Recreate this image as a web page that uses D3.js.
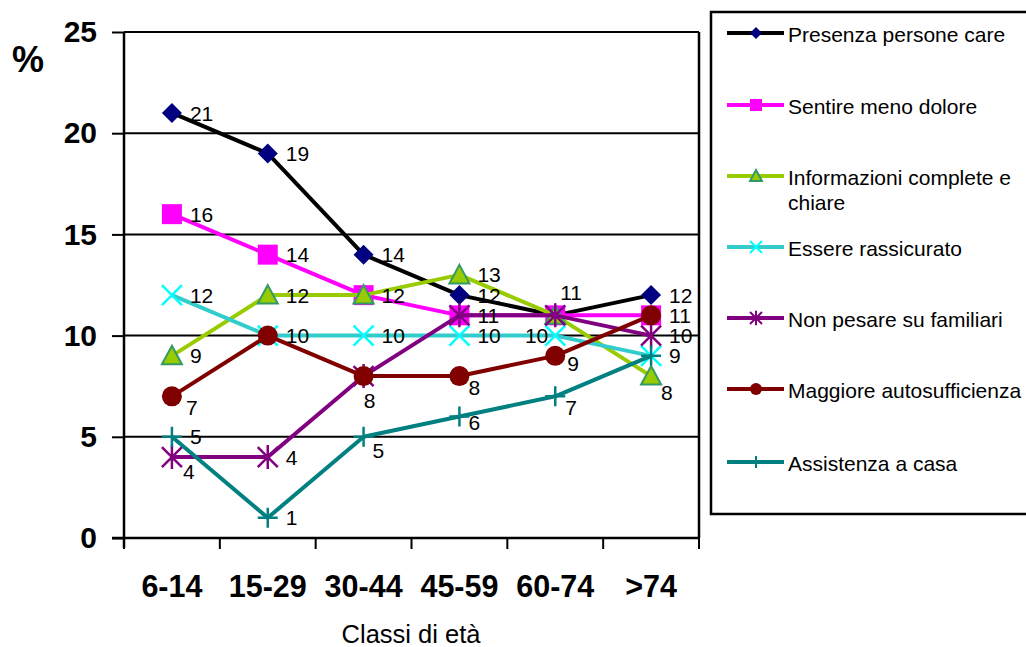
<!DOCTYPE html>
<html>
<head>
<meta charset="utf-8">
<script src="https://cdn.jsdelivr.net/npm/d3@7"></script>
<style>
  html, body { margin: 0; padding: 0; background: #fff; }
  svg { display: block; font-family: "Liberation Sans", Arial, sans-serif; }
</style>
</head>
<body>
<svg id="chart" width="1026" height="647"></svg>
<script>
// ---- Data ----
const categories = ["6-14", "15-29", "30-44", "45-59", "60-74", ">74"];
const seriesNames = [
  "Presenza persone care",
  "Sentire meno dolore",
  "Informazioni complete e chiare",
  "Essere rassicurato",
  "Non pesare su familiari",
  "Maggiore autosufficienza",
  "Assistenza a casa"
];
const presenza      = [21, 19, 14, 12, 11, 12];
const sentire       = [16, 14, 12, 11, 11, 11];
const informazioni  = [9, 12, 12, 13, 11, 8];
const rassicurato   = [12, 10, 10, 10, 10, 9];
const nonPesare     = [4, 4, 8, 11, 11, 10];
const autosuff      = [7, 10, 8, 8, 9, 11];
const assistenza    = [5, 1, 5, 6, 7, 9];
const yTicks = [0, 5, 10, 15, 20, 25];
const yTitle = "%";
const xTitle = "Classi di età";

// ---- Styles ----
const styles = [
  { line: "#000000", marker: "diamond", fill: "#000080", stroke: "#000080" },
  { line: "#FF00FF", marker: "square", fill: "#FF00FF", stroke: "#FF00FF" },
  { line: "#99CC00", marker: "triangle", fill: "#99CC00", stroke: "#339966" },
  { line: "#33CCCC", marker: "x", fill: "none", stroke: "#00FFFF" },
  { line: "#800080", marker: "star", fill: "none", stroke: "#800080" },
  { line: "#800000", marker: "circle", fill: "#800000", stroke: "#800000" },
  { line: "#008080", marker: "plus", fill: "none", stroke: "#008080" }
];
const allValues = [presenza, sentire, informazioni, rassicurato, nonPesare, autosuff, assistenza];

// label placement tweaks: key "series-category" -> [anchor, dx, dy] ; null = hidden (coincides with another label)
const labelTweaks = {
  "0-4": ["start", 5, -23],
  "1-4": null, "2-4": null, "4-4": null, "4-2": null,
  "2-2": null, "4-3": null, "1-5": null, "6-5": null, "5-1": null,
  "2-5": ["start", 10, 16],
  "3-4": ["end", -7, 0],
  "4-0": ["start", 11, 14],
  "5-0": ["start", 14, 11],
  "5-2": ["middle", 6, 24],
  "5-3": ["start", 9, 11],
  "5-4": ["start", 12, 8],
  "6-2": ["start", 9, 14],
  "6-3": ["start", 9, 6],
  "6-4": ["start", 10, 11]
};

const svg = d3.select("#chart");
const L = 124, R = 699, T = 32, B = 538;

const xBand = d3.scaleBand().domain(categories).range([L, R]);
const x = c => xBand(c) + xBand.bandwidth() / 2;
const y = d3.scaleLinear().domain([0, 25]).range([B, T]);

// gridlines
svg.append("g").selectAll("line").data(yTicks.filter(t => t > 0)).join("line")
  .attr("x1", L).attr("x2", R).attr("y1", d => y(d)).attr("y2", d => y(d))
  .attr("stroke", "#000").attr("stroke-width", 2);

// plot border (right)
svg.append("line").attr("x1", R).attr("x2", R).attr("y1", T).attr("y2", B)
  .attr("stroke", "#000").attr("stroke-width", 2.5);

// y axis
const yAxis = svg.append("g").attr("transform", `translate(${L},0)`)
  .call(d3.axisLeft(y).tickValues(yTicks).tickSize(12).tickPadding(15));
yAxis.select(".domain").remove();
yAxis.append("line").attr("x1", 0).attr("x2", 0).attr("y1", T).attr("y2", B + 10)
  .attr("stroke", "#000").attr("stroke-width", 2.5);
yAxis.selectAll(".tick line").attr("stroke", "#000").attr("stroke-width", 2);
yAxis.selectAll(".tick text").attr("font-size", 30).attr("font-weight", "bold")
  .attr("font-family", "Liberation Sans, Arial, sans-serif").attr("fill", "#000");

// x axis
const xAxis = svg.append("g").attr("transform", `translate(0,${B})`)
  .call(d3.axisBottom(xBand).tickSize(0).tickPadding(37));
xAxis.select(".domain").remove();
xAxis.append("line").attr("x1", L - 12).attr("x2", R).attr("y1", 0).attr("y2", 0)
  .attr("stroke", "#000").attr("stroke-width", 2.5);
xAxis.selectAll(".tick text").attr("font-size", 30.5).attr("font-weight", "bold")
  .attr("font-family", "Liberation Sans, Arial, sans-serif").attr("fill", "#000")
  .attr("dy", "0.71em");
const boundaries = categories.map(c => xBand(c)).concat([R]);
xAxis.append("g").selectAll("line").data(boundaries).join("line")
  .attr("x1", d => d).attr("x2", d => d).attr("y1", 0).attr("y2", 11)
  .attr("stroke", "#000").attr("stroke-width", 2);

// titles
svg.append("text").attr("x", 28).attr("y", 72).attr("text-anchor", "middle")
  .attr("font-size", 36).attr("font-weight", "bold").text(yTitle);
svg.append("text").attr("x", 411).attr("y", 643).attr("text-anchor", "middle")
  .attr("font-size", 25.5).text(xTitle);

// marker path
function markerPath(type, s) {
  switch (type) {
    case "diamond": return `M0,${-s}L${s},0L0,${s}L${-s},0Z`;
    case "square": return `M${-s},${-s}H${s}V${s}H${-s}Z`;
    case "triangle": return `M0,${-s}L${s},${s * 0.85}L${-s},${s * 0.85}Z`;
    case "circle": return d3.arc()({ innerRadius: 0, outerRadius: s, startAngle: 0, endAngle: 2 * Math.PI });
    case "x": return `M${-s},${-s}L${s},${s}M${s},${-s}L${-s},${s}`;
    case "star": return `M${-s},${-s}L${s},${s}M${s},${-s}L${-s},${s}M0,${-s * 1.2}V${s * 1.2}`;
    case "plus": return `M0,${-s}V${s}M${-s},0H${s}`;
  }
}

const line = d3.line().x((d, i) => x(categories[i])).y(d => y(d));

// series
allValues.forEach((vals, si) => {
  const st = styles[si];
  const g = svg.append("g");
  g.append("path").datum(vals).attr("d", line).attr("fill", "none")
    .attr("stroke", st.line).attr("stroke-width", 4).attr("stroke-linejoin", "round");
  g.selectAll("path.m").data(vals).join("path").attr("class", "m")
    .attr("transform", (d, i) => `translate(${x(categories[i])},${y(d)})`)
    .attr("d", markerPath(st.marker, 10))
    .attr("fill", st.fill).attr("stroke", st.stroke)
    .attr("stroke-width", (st.marker === "x" || st.marker === "star" || st.marker === "plus") ? 2.5 : (st.marker === "triangle" ? 2 : 0));
});

// labels
allValues.forEach((vals, si) => {
  vals.forEach((v, ci) => {
    const key = si + "-" + ci;
    let tw = ["start", 18, 0];
    if (key in labelTweaks) {
      if (labelTweaks[key] === null) return;
      tw = labelTweaks[key];
    }
    svg.append("text")
      .attr("x", x(categories[ci]) + tw[1])
      .attr("y", y(v) + tw[2])
      .attr("dy", "0.36em")
      .attr("text-anchor", tw[0])
      .attr("font-size", 21)
      .attr("fill", "#000")
      .text(v);
  });
});

// legend
const lg = svg.append("g");
lg.append("rect").attr("x", 711).attr("y", 12).attr("width", 330).attr("height", 502)
  .attr("fill", "#fff").attr("stroke", "#000").attr("stroke-width", 2.5);
const legendRows = [33, 105, 176, 247, 318, 389, 462];
seriesNames.forEach((name, si) => {
  const st = styles[si];
  const ly = legendRows[si];
  lg.append("line").attr("x1", 727).attr("x2", 784).attr("y1", ly).attr("y2", ly)
    .attr("stroke", st.line).attr("stroke-width", 4);
  lg.append("path").attr("transform", `translate(756,${ly})`)
    .attr("d", markerPath(st.marker, 6))
    .attr("fill", st.fill).attr("stroke", st.stroke)
    .attr("stroke-width", (st.marker === "x" || st.marker === "star" || st.marker === "plus") ? 2 : (st.marker === "triangle" ? 2 : 0));
  const t = lg.append("text").attr("x", 788).attr("y", ly + 9).attr("font-size", 21).attr("fill", "#000");
  if (name === "Informazioni complete e chiare") {
    t.append("tspan").attr("x", 788).text("Informazioni complete e");
    t.append("tspan").attr("x", 788).attr("dy", 25).text("chiare");
  } else {
    t.text(name);
  }
});
</script>
</body>
</html>
